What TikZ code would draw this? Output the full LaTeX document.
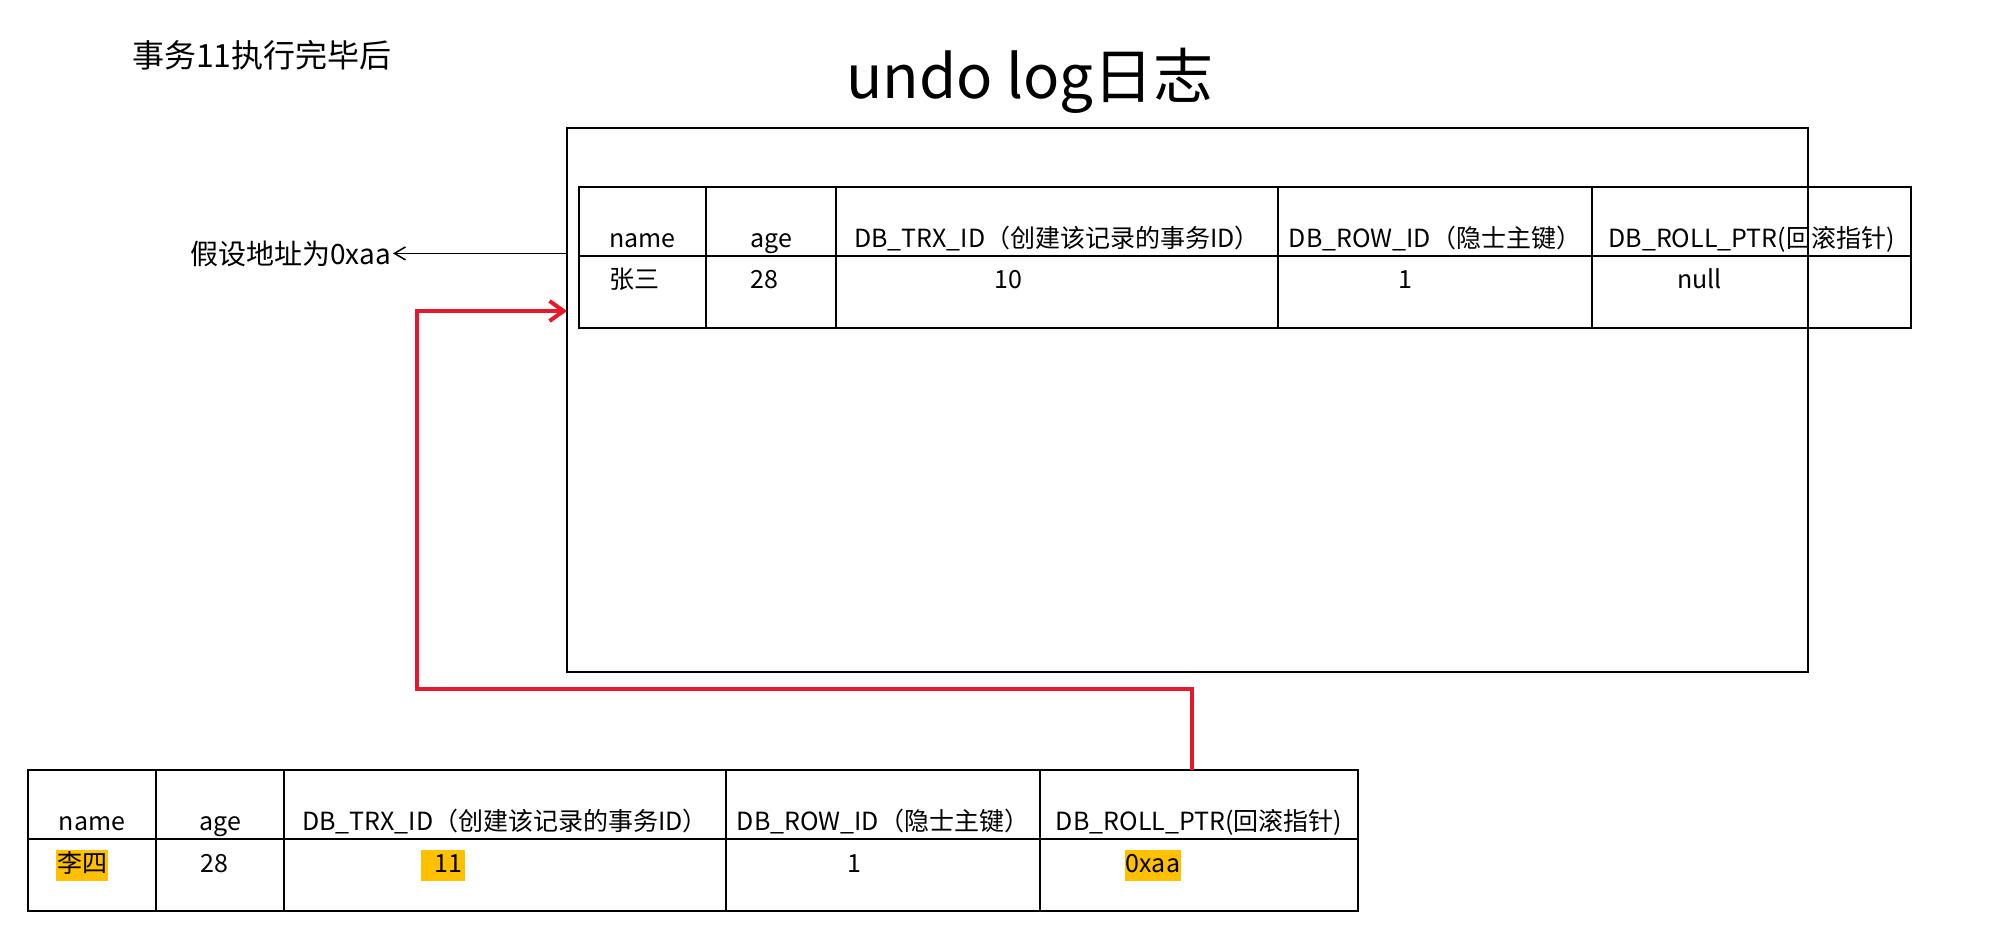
\documentclass[tikz,border=0pt]{standalone}
\usepackage{fontspec}
\setmainfont{Noto Sans CJK SC}
\usetikzlibrary{positioning, arrows.meta}

\definecolor{ptrred}{RGB}{232,24,44}
\definecolor{mark}{RGB}{255,192,0}

\begin{document}
\begin{tikzpicture}[
  x=1pt, y=-1pt,
  font=\fontsize{25pt}{30pt}\selectfont,
  node distance=0pt,
  hcell/.style={draw, line width=2.5pt, outer sep=0pt, inner sep=0pt,
                minimum height=69pt, text height=52pt, text depth=0pt},
  dcell/.style={draw, line width=2.5pt, outer sep=0pt, inner sep=0pt,
                minimum height=72pt},
  val/.style={anchor=base, inner xsep=1pt, inner ysep=2pt,
              text height=20pt, text depth=7pt},
  hl/.style={val, fill=mark},
  frame/.style={draw, line width=2pt, outer sep=0pt,
                minimum width=1241pt, minimum height=544pt},
  redarr/.style={draw=ptrred, line width=4pt,
                 -{Straight Barb[length=14pt, width=20pt]}},
  ptr/.style={line width=1.5pt, -{Straight Barb[length=11pt, width=13pt]}}
]
\useasboundingbox (0,0) rectangle (2010,939);

% titles
\node[font=\fontsize{32pt}{36pt}\selectfont, anchor=base west, inner sep=0pt]
  (caption) at (132,68) {事务11执行完毕后};
\node[font=\fontsize{60pt}{70pt}\selectfont, anchor=base] (title) at (1030,99) {undo log日志};

% undo log area
\node[frame, anchor=north west] (log) at (567,128) {};
\node[font=\fontsize{28pt}{32pt}\selectfont, anchor=base east, inner sep=2pt]
  (addr) at (393,264) {假设地址为0xaa};

% record in undo log
\node[hcell, minimum width=127pt, anchor=north west] (th1) at (579,187) {name};
\node[hcell, minimum width=130pt, right=of th1] (th2) {age};
\node[hcell, minimum width=442pt, right=of th2] (th3) {DB\_TRX\_ID（创建该记录的事务ID）};
\node[hcell, minimum width=314pt, right=of th3] (th4) {DB\_ROW\_ID（隐士主键）};
\node[hcell, minimum width=319pt, right=of th4] (th5) {DB\_ROLL\_PTR(回滚指针)};
\node[dcell, minimum width=127pt, below=of th1] (td1) {};
\node[dcell, minimum width=130pt, below=of th2] (td2) {};
\node[dcell, minimum width=442pt, below=of th3] (td3) {};
\node[dcell, minimum width=314pt, below=of th4] (td4) {};
\node[dcell, minimum width=319pt, below=of th5] (td5) {};
\node[val] (tv1) at ([xshift=-8pt, yshift=4pt]td1.center) {张三};
\node[val] (tv2) at ([xshift=-7pt, yshift=4pt]td2.center) {28};
\node[val] (tv3) at ([xshift=-49pt, yshift=4pt]td3.center) {10};
\node[val] (tv4) at ([xshift=-30pt, yshift=4pt]td4.center) {1};
\node[val] (tv5) at ([xshift=-52pt, yshift=4pt]td5.center) {null};

% current record
\node[hcell, minimum width=128pt, anchor=north west] (bh1) at (28,770) {name};
\node[hcell, minimum width=128pt, right=of bh1] (bh2) {age};
\node[hcell, minimum width=442pt, right=of bh2] (bh3) {DB\_TRX\_ID（创建该记录的事务ID）};
\node[hcell, minimum width=314pt, right=of bh3] (bh4) {DB\_ROW\_ID（隐士主键）};
\node[hcell, minimum width=318pt, right=of bh4] (bh5) {DB\_ROLL\_PTR(回滚指针)};
\node[dcell, minimum width=128pt, below=of bh1] (bd1) {};
\node[dcell, minimum width=128pt, below=of bh2] (bd2) {};
\node[dcell, minimum width=442pt, below=of bh3] (bd3) {};
\node[dcell, minimum width=314pt, below=of bh4] (bd4) {};
\node[dcell, minimum width=318pt, below=of bh5] (bd5) {};
\node[hl] (bv1) at ([xshift=-10pt, yshift=3pt]bd1.center) {李四};
\node[val] (bv2) at ([xshift=-6pt, yshift=3pt]bd2.center) {28};
\node[hl, inner xsep=3pt] (bv3) at ([xshift=-62pt, yshift=3pt]bd3.center) {\ \ 11};
\node[val] (bv4) at ([xshift=-29pt, yshift=3pt]bd4.center) {1};
\node[hl] (bv5) at ([xshift=-46pt, yshift=3pt]bd5.center) {0xaa};

% pointers
\draw[ptr] (log.west |- addr.east) -- (addr.east);
\draw[redarr] ([xshift=-7pt]bh5.north) -- ++(0,-81)
  -| ([xshift=-150pt, yshift=89pt]log.west) -- ([yshift=89pt]log.west);
\end{tikzpicture}
\end{document}
